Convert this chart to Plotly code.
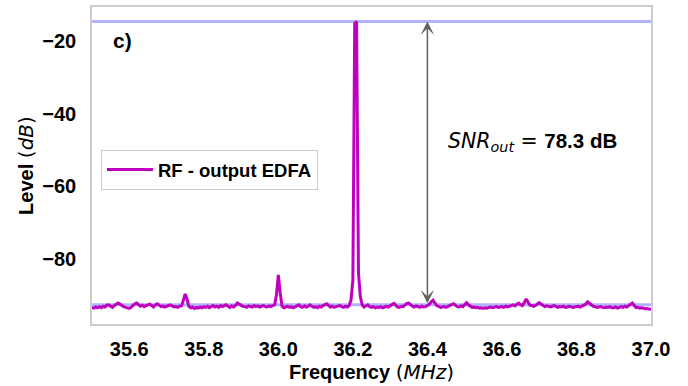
import numpy as np
import plotly.graph_objects as go

# RF spectrum at the EDFA output, 5 kHz sweep step from 35.5 to 37.0 MHz
f_start = 35.5
f_step = 0.005
level_db = [
    -93.5, -93.7, -93.4, -93.6, -93.3, -93.6, -93.2, -93.4, -92.9, -92.8,
    -93.2, -93.5, -93.0, -92.6, -92.3, -92.6, -93.0, -93.3, -93.5, -93.7,
    -93.8, -93.5, -93.0, -92.5, -92.3, -92.7, -93.2, -92.9, -93.3, -93.0,
    -92.8, -92.6, -93.0, -93.4, -92.8, -92.5, -92.9, -93.3, -93.1, -93.4,
    -93.2, -93.0, -92.8, -93.1, -93.4, -93.3, -93.5, -93.2, -93.1, -91.6,
    -89.8, -91.2, -93.2, -93.6, -93.4, -93.8, -93.5, -93.7, -93.4, -93.6,
    -93.3, -93.5, -93.2, -93.6, -93.3, -93.0, -93.4, -93.2, -93.5, -93.0,
    -93.3, -93.0, -92.8, -93.2, -93.5, -93.1, -93.4, -93.0, -92.3, -92.6,
    -93.0, -93.2, -93.3, -93.5, -93.1, -93.2, -93.4, -93.0, -93.3, -93.1,
    -93.4, -93.2, -93.0, -93.3, -93.4, -93.1, -93.3, -93.0, -92.8, -90.0,
    -84.5, -89.5, -93.2, -93.6, -93.4, -93.2, -93.5, -93.3, -93.6, -93.4,
    -93.2, -92.8, -93.3, -93.5, -93.1, -93.4, -93.2, -92.8, -93.2, -93.5,
    -93.3, -93.6, -93.2, -93.4, -93.0, -92.7, -92.5, -93.0, -93.4, -93.2,
    -93.5, -93.3, -93.1, -93.0, -93.3, -93.5, -93.2, -93.4, -93.0, -91.5,
    -86.0, -15.0, -14.5, -84.0, -90.5, -92.8, -93.4, -93.1, -92.8, -93.3,
    -93.5, -93.3, -93.6, -93.4, -93.5, -93.3, -93.6, -93.4, -93.2, -93.4,
    -93.0, -92.6, -92.4, -92.9, -93.4, -93.5, -93.2, -93.3, -92.8, -92.4,
    -92.3, -92.8, -93.2, -93.4, -93.1, -93.3, -93.5, -93.2, -93.4, -93.3,
    -93.0, -92.7, -92.0, -91.5, -92.3, -93.0, -93.2, -93.5, -93.4, -93.3,
    -93.5, -93.3, -93.1, -92.8, -92.5, -92.9, -93.3, -93.4, -93.1, -93.3,
    -92.7, -92.2, -92.8, -93.2, -93.5, -93.4, -93.6, -93.5, -93.7, -93.6,
    -93.8, -93.6, -93.7, -93.5, -93.4, -93.6, -93.5, -93.3, -93.5, -93.4,
    -93.3, -93.5, -93.2, -93.4, -93.3, -93.0, -92.8, -93.1, -92.6, -92.3,
    -92.8, -93.0, -92.2, -91.2, -92.0, -92.9, -93.0, -93.2, -93.0, -92.6,
    -92.2, -92.6, -93.0, -93.3, -93.1, -93.2, -93.4, -93.2, -93.0, -93.2,
    -93.5, -93.3, -93.4, -93.2, -93.5, -93.4, -93.2, -93.3, -93.5, -93.4,
    -93.3, -93.2, -93.4, -93.1, -93.0, -92.6, -92.0, -92.4, -93.0, -93.2,
    -93.3, -93.5, -93.4, -93.3, -93.5, -93.6, -93.4, -93.5, -93.3, -93.6,
    -93.6, -93.4, -93.7, -93.5, -93.3, -93.5, -93.2, -93.4, -93.0, -92.6,
    -92.3, -93.0, -93.6, -93.5, -93.7, -93.6, -93.8, -93.9, -93.8, -94.0,
    -94.1,
]
freq_mhz = np.round(f_start + f_step * np.arange(len(level_db)), 3)

# Signal peak and noise floor used for the SNR marker
peak_level = -14.5
noise_level = -92.8
snr_db = peak_level - noise_level
arrow_freq = 36.4

x_ticks = [35.6, 35.8, 36.0, 36.2, 36.4, 36.6, 36.8, 37.0]
y_ticks = [-20, -40, -60, -80]

MAGENTA = "#bf00bf"
BAND = "rgba(0,0,255,0.3)"
FRAME = "#cccccc"
SANS = "Liberation Sans"
DEJAVU = "DejaVu Sans"

fig = go.Figure()
fig.add_trace(go.Scatter(
    x=freq_mhz, y=level_db, mode="lines", name="RF - output EDFA",
    line=dict(color=MAGENTA, width=3),
))

for lvl in (peak_level, noise_level):
    fig.add_shape(type="line", xref="paper", x0=0, x1=1, yref="y", y0=lvl, y1=lvl,
                  line=dict(color=BAND, width=3), layer="below")

fig.add_annotation(
    x=arrow_freq, y=peak_level, ax=arrow_freq, ay=noise_level,
    xref="x", yref="y", axref="x", ayref="y",
    showarrow=True, arrowside="end+start", arrowhead=3, arrowsize=1.5,
    arrowwidth=1.5, arrowcolor="rgba(60,60,60,0.8)", standoff=0, startstandoff=0, text="",
)

fig.add_annotation(
    x=0.034, y=0.893, xref="paper", yref="paper", xanchor="left", yanchor="middle",
    text="<b>c)</b>", showarrow=False, font=dict(family=SANS, size=21, color="black"),
)

fig.add_annotation(
    x=0.633, y=0.575, xref="paper", yref="paper", xanchor="left", yanchor="middle",
    text=(f'<span style="font-family:{DEJAVU}"><i>SNR<sub>out</sub></i> = </span>'
          f"<b>{snr_db:.1f} dB</b>"),
    showarrow=False, font=dict(family=SANS, size=20.5, color="black"),
)

fig.update_xaxes(
    range=[35.5, 37.0], tickvals=x_ticks, ticktext=[f"{v:.1f}" for v in x_ticks],
    showgrid=False, zeroline=False, showline=True, mirror=True,
    linecolor=FRAME, linewidth=1.5,
    ticks="outside", ticklen=6, tickcolor="rgba(0,0,0,0)",
    tickfont=dict(family=SANS, size=20, color="black", weight="bold"),
    title=dict(text=f'<b>Frequency</b> <span style="font-family:{DEJAVU}">(<i>MHz</i>)</span>',
               font=dict(family=SANS, size=20, color="black"), standoff=6),
)
fig.update_yaxes(
    range=[-98.1, -10.5], tickvals=y_ticks, ticktext=[f"\u2212{abs(v)}" for v in y_ticks],
    showgrid=False, zeroline=False, showline=True, mirror=True,
    linecolor=FRAME, linewidth=1.5,
    ticks="outside", ticklen=10, tickcolor="rgba(0,0,0,0)",
    tickfont=dict(family=SANS, size=20, color="black", weight="bold"),
    title=dict(text=f'<b>Level</b> <span style="font-family:{DEJAVU}">(<i>dB</i>)</span>',
               font=dict(family=SANS, size=20, color="black"), standoff=3),
)

fig.update_layout(
    width=688, height=386,
    margin=dict(l=92, r=37, t=7, b=62, autoexpand=False),
    plot_bgcolor="white", paper_bgcolor="white",
    showlegend=True,
    legend=dict(
        x=0.016, y=0.549, xanchor="left", yanchor="top",
        bgcolor="white", bordercolor=FRAME, borderwidth=1,
        font=dict(family=SANS, size=18.5, color="black", weight="bold"),
        itemwidth=46,
    ),
)

fig.write_html("out.html")
